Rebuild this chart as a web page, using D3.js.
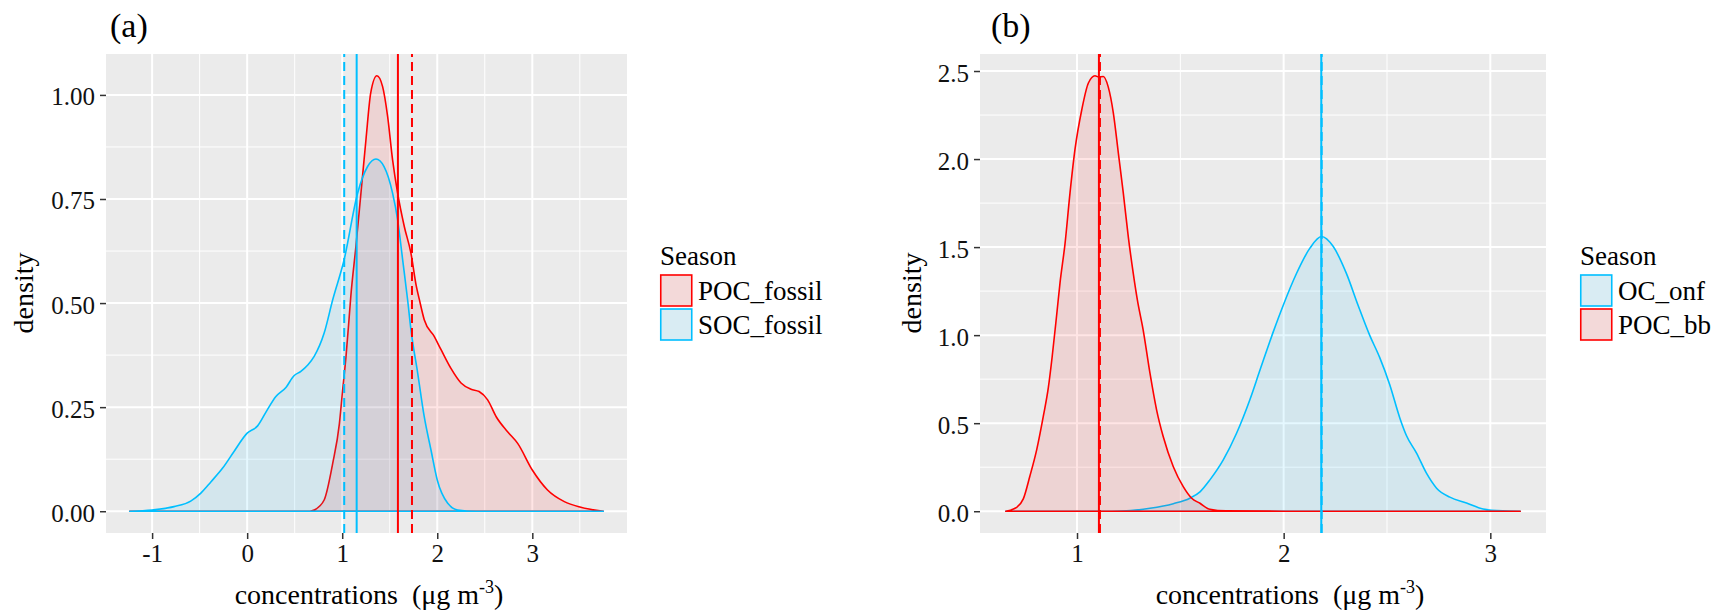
<!DOCTYPE html>
<html>
<head>
<meta charset="utf-8">
<script src="https://cdn.jsdelivr.net/npm/d3@7"></script>
<style>
  body { margin: 0; background: #fff; }
  svg { display: block; }
  text { font-family: "Liberation Serif", "Times New Roman", serif; }
</style>
</head>
<body>
<svg id="chart" width="1716" height="613"></svg>
<script>
// ---- panel (a): fossil OC densities ----
const pocFossilX = [-1.236, 0.5, 0.66, 0.705, 0.81, 0.9, 0.97, 1.004, 1.04, 1.074, 1.09, 1.144, 1.197, 1.25, 1.3, 1.365, 1.425, 1.478, 1.53, 1.583, 1.653, 1.723, 1.78, 1.81, 1.863, 1.968, 2.04, 2.144, 2.25, 2.355, 2.44, 2.53, 2.62, 2.74, 2.846, 3.0, 3.16, 3.337, 3.51, 3.747];
const pocFossilY = [0, 0, 0, 0.003, 0.027, 0.115, 0.21, 0.29, 0.372, 0.468, 0.515, 0.636, 0.764, 0.893, 1.005, 1.046, 1.02, 0.948, 0.844, 0.764, 0.684, 0.62, 0.54, 0.51, 0.46, 0.42, 0.388, 0.343, 0.308, 0.293, 0.2875, 0.2675, 0.227, 0.191, 0.163, 0.099, 0.051, 0.023, 0.0096, 0];
const socFossilX = [-1.236, -1.0, -0.77, -0.59, -0.49, -0.38, -0.26, -0.14, 0.0, 0.11, 0.21, 0.3, 0.41, 0.49, 0.565, 0.64, 0.705, 0.81, 0.9, 1.02, 1.162, 1.267, 1.355, 1.44, 1.53, 1.583, 1.636, 1.688, 1.723, 1.794, 1.863, 1.934, 2.0, 2.11, 2.215, 2.4, 3.0, 3.747];
const socFossilY = [0, 0.003, 0.011, 0.025, 0.043, 0.071, 0.103, 0.143, 0.1875, 0.205, 0.243, 0.275, 0.298, 0.325, 0.336, 0.352, 0.372, 0.428, 0.508, 0.604, 0.764, 0.828, 0.846, 0.828, 0.764, 0.7, 0.604, 0.508, 0.436, 0.332, 0.227, 0.147, 0.075, 0.019, 0.003, 0, 0, 0];
const pocFossilLines = [1.586, 1.734]; // solid, dashed
const socFossilLines = [1.152, 1.021];
const seasonsA = ["POC_fossil", "SOC_fossil"];
const xMajorA = [-1, 0, 1, 2, 3];
const xMinorA = [-0.5, 0.5, 1.5, 2.5, 3.5];
const yMajorA = [0, 0.25, 0.5, 0.75, 1.0];
const yMinorA = [0.125, 0.375, 0.625, 0.875];
const yLabelsA = ["0.00", "0.25", "0.50", "0.75", "1.00"];

// ---- panel (b): OC_onf and biomass burning POC ----
const ocOnfX = [0.655, 1.1, 1.24, 1.353, 1.466, 1.546, 1.595, 1.643, 1.707, 1.772, 1.836, 1.885, 1.95, 1.998, 2.062, 2.127, 2.183, 2.24, 2.303, 2.36, 2.416, 2.464, 2.513, 2.562, 2.594, 2.643, 2.691, 2.74, 2.804, 2.885, 2.965, 3.06, 3.145];
const ocOnfY = [0, 0, 0.003, 0.017, 0.043, 0.074, 0.11, 0.178, 0.29, 0.443, 0.632, 0.8, 1.02, 1.17, 1.35, 1.494, 1.56, 1.503, 1.352, 1.17, 1.0, 0.875, 0.72, 0.53, 0.43, 0.33, 0.216, 0.131, 0.08, 0.047, 0.013, 0.002, 0];
const pocBbX = [0.655, 0.708, 0.74, 0.772, 0.805, 0.837, 0.861, 0.88, 0.902, 0.918, 0.942, 0.966, 0.99, 1.023, 1.055, 1.087, 1.105, 1.127, 1.151, 1.176, 1.2, 1.224, 1.248, 1.272, 1.292, 1.32, 1.353, 1.385, 1.417, 1.466, 1.514, 1.555, 1.595, 1.643, 1.72, 2.0, 3.145];
const pocBbY = [0, 0.022, 0.07, 0.2, 0.35, 0.54, 0.7, 0.88, 1.12, 1.3, 1.52, 1.807, 2.053, 2.28, 2.432, 2.473, 2.466, 2.469, 2.41, 2.26, 2.034, 1.807, 1.56, 1.352, 1.2, 1.03, 0.784, 0.576, 0.424, 0.253, 0.14, 0.074, 0.045, 0.011, 0.002, 0, 0];
const ocOnfLines = [2.182, 2.184];
const pocBbLines = [1.106, 1.111];
const seasonsB = ["OC_onf", "POC_bb"];
const xMajorB = [1, 2, 3];
const xMinorB = [1.5, 2.5];
const yMajorB = [0, 0.5, 1.0, 1.5, 2.0, 2.5];
const yMinorB = [0.25, 0.75, 1.25, 1.75, 2.25];
const yLabelsB = ["0.0", "0.5", "1.0", "1.5", "2.0", "2.5"];

const RED = "#ff0000", BLUE = "#00bfff";
const svg = d3.select("#chart");

function zip(xs, ys) {
  return xs.map((x, i) => ({ x: x, y: ys[i] }));
}

function drawPanel(p) {
  const g = svg.append("g");
  const allX = p.series.flatMap((s) => s.data.map((d) => d.x));
  const [x0, x1] = d3.extent(allX);
  const ymax = d3.max(p.series.flatMap((s) => s.data.map((d) => d.y)));
  const padX = (x1 - x0) * 0.05;
  const x = d3.scaleLinear().domain([x0 - padX, x1 + padX]).range([p.left, p.right]);
  const y = d3.scaleLinear().domain([-ymax * 0.05, ymax * 1.05]).range([p.bottom, p.top]);

  g.append("rect")
    .attr("x", p.left).attr("y", p.top)
    .attr("width", p.right - p.left).attr("height", p.bottom - p.top)
    .attr("fill", "#ebebeb");

  // grid
  g.selectAll(".minx").data(p.xMinor).join("line")
    .attr("x1", (d) => x(d)).attr("x2", (d) => x(d))
    .attr("y1", p.top).attr("y2", p.bottom)
    .attr("stroke", "#fff").attr("stroke-width", 1);
  g.selectAll(".miny").data(p.yMinor).join("line")
    .attr("y1", (d) => y(d)).attr("y2", (d) => y(d))
    .attr("x1", p.left).attr("x2", p.right)
    .attr("stroke", "#fff").attr("stroke-width", 1);
  g.selectAll(".majx").data(p.xMajor).join("line")
    .attr("x1", (d) => x(d)).attr("x2", (d) => x(d))
    .attr("y1", p.top).attr("y2", p.bottom)
    .attr("stroke", "#fff").attr("stroke-width", 2);
  g.selectAll(".majy").data(p.yMajor).join("line")
    .attr("y1", (d) => y(d)).attr("y2", (d) => y(d))
    .attr("x1", p.left).attr("x2", p.right)
    .attr("stroke", "#fff").attr("stroke-width", 2);

  const clipId = "clip-" + p.name;
  svg.append("clipPath").attr("id", clipId).append("rect")
    .attr("x", p.left).attr("y", p.top)
    .attr("width", p.right - p.left).attr("height", p.bottom - p.top);
  const plot = g.append("g").attr("clip-path", `url(#${clipId})`);

  const area = d3.area()
    .x((d) => x(d.x)).y0(y(0)).y1((d) => y(d.y))
    .curve(d3.curveMonotoneX);

  p.series.forEach((s) => {
    plot.append("path")
      .attr("d", area(s.data))
      .attr("fill", s.color).attr("fill-opacity", 0.1)
      .attr("stroke", s.color).attr("stroke-width", 1.6)
      .attr("stroke-linejoin", "round");
  });

  p.series.forEach((s) => {
    s.lines.forEach((v, i) => {
      plot.append("line")
        .attr("x1", x(v)).attr("x2", x(v))
        .attr("y1", p.bottom).attr("y2", p.top)
        .attr("stroke", s.color).attr("stroke-width", 2)
        .attr("stroke-dasharray", i === 1 ? "9,5" : null);
    });
  });

  // axes
  const xAxis = g.append("g")
    .attr("transform", `translate(0,${p.bottom})`)
    .call(d3.axisBottom(x).tickValues(p.xMajor).tickFormat((d) => String(d))
      .tickSize(6).tickPadding(5));
  const yAxis = g.append("g")
    .attr("transform", `translate(${p.left},0)`)
    .call(d3.axisLeft(y).tickValues(p.yMajor).tickFormat((d, i) => p.yLabels[i])
      .tickSize(6).tickPadding(5));
  [xAxis, yAxis].forEach((a) => {
    a.select(".domain").remove();
    a.selectAll(".tick line").attr("stroke", "#333").attr("stroke-width", 1.5);
    a.selectAll(".tick text")
      .attr("fill", "#111").attr("font-size", 25)
      .attr("font-family", '"Liberation Serif", "Times New Roman", serif');
  });
  yAxis.selectAll(".tick text").attr("dy", "0.4em");

  // titles
  const xt = g.append("text")
    .attr("x", p.xTitleX).attr("y", 604)
    .attr("text-anchor", "middle").attr("font-size", 28).attr("fill", "#000");
  xt.append("tspan").text("concentrations\u00a0 (\u03bcg m");
  xt.append("tspan").attr("font-size", 18).attr("dy", -11).text("-3");
  xt.append("tspan").attr("dy", 11).text(")");

  g.append("text")
    .attr("transform", `translate(${p.yTitleX},293) rotate(-90)`)
    .attr("text-anchor", "middle").attr("font-size", 28).attr("fill", "#000")
    .text("density");

  g.append("text")
    .attr("x", p.tagX).attr("y", 37)
    .attr("font-size", 34).attr("fill", "#000")
    .text(p.tag);

  // legend
  const lg = g.append("g").attr("transform", `translate(${p.legendX},0)`);
  lg.append("text").attr("x", 0).attr("y", 265)
    .attr("font-size", 27).attr("fill", "#000").text("Season");
  p.legend.forEach((s, i) => {
    const top = 275 + i * 34;
    lg.append("rect").attr("x", 0.75).attr("y", top)
      .attr("width", 31).attr("height", 31).attr("fill", "#f2f2f2");
    lg.append("rect").attr("x", 0.75).attr("y", top)
      .attr("width", 31).attr("height", 31)
      .attr("fill", s.color).attr("fill-opacity", 0.1)
      .attr("stroke", s.color).attr("stroke-width", 1.6);
    lg.append("text").attr("x", 38).attr("y", top + 25)
      .attr("font-size", 27).attr("fill", "#000").text(s.label);
  });
}

svg.append("rect").attr("width", 1716).attr("height", 613).attr("fill", "#fff");

drawPanel({
  name: "a", tag: "(a)", tagX: 110,
  left: 106, right: 627, top: 54, bottom: 533,
  xTitleX: 369, yTitleX: 33, legendX: 660,
  xMajor: xMajorA, xMinor: xMinorA, yMajor: yMajorA, yMinor: yMinorA, yLabels: yLabelsA,
  series: [
    { data: zip(pocFossilX, pocFossilY), color: RED, lines: pocFossilLines },
    { data: zip(socFossilX, socFossilY), color: BLUE, lines: socFossilLines }
  ],
  legend: [
    { label: seasonsA[0], color: RED },
    { label: seasonsA[1], color: BLUE }
  ]
});

drawPanel({
  name: "b", tag: "(b)", tagX: 991,
  left: 980, right: 1546, top: 54, bottom: 533,
  xTitleX: 1290, yTitleX: 921, legendX: 1580,
  xMajor: xMajorB, xMinor: xMinorB, yMajor: yMajorB, yMinor: yMinorB, yLabels: yLabelsB,
  series: [
    { data: zip(ocOnfX, ocOnfY), color: BLUE, lines: ocOnfLines },
    { data: zip(pocBbX, pocBbY), color: RED, lines: pocBbLines }
  ],
  legend: [
    { label: seasonsB[0], color: BLUE },
    { label: seasonsB[1], color: RED }
  ]
});
</script>
</body>
</html>
